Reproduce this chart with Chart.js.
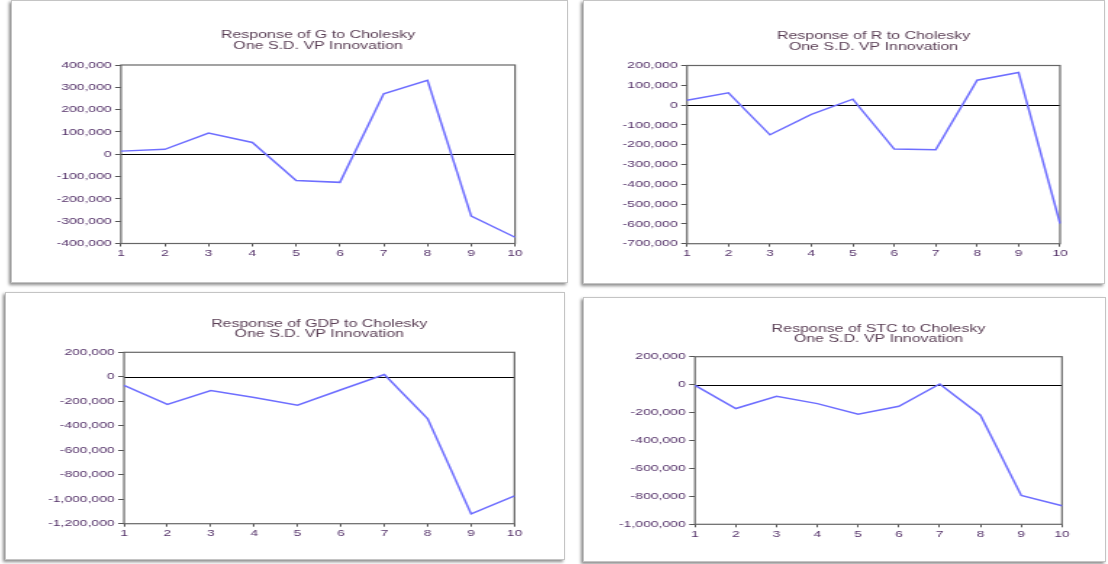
<!DOCTYPE html>
<html><head><meta charset="utf-8">
<script src="https://cdn.jsdelivr.net/npm/chart.js@4.4.1/dist/chart.umd.min.js"></script>
<style>
html,body{margin:0;padding:0;background:#fff;}
body{width:1108px;height:564px;overflow:hidden;position:relative;font-family:"Liberation Sans",Arial,sans-serif;}
.panel{position:absolute;border:1px solid #c4c4c4;box-shadow:-2px 2px 3px rgba(0,0,0,0.45);background:#fff;box-sizing:border-box;}
canvas{position:absolute;transform-origin:0 0;}
</style></head><body>
<script>
// ---- data ----
const periods = ['1','2','3','4','5','6','7','8','9','10'];

const respG   = [14000, 22000, 95000, 53000, -118000, -126000, 271000, 331000, -277000, -372000];
const respR   = [24000, 62000, -150000, -47000, 30000, -222000, -226000, 126000, 165000, -598000];
const respGDP = [-71000, -226000, -112000, -169000, -232000, -106000, 19000, -343000, -1120000, -973000];
const respSTC = [-5000, -171000, -83000, -136000, -212000, -155000, 5000, -219000, -793000, -867000];

const ticksG   = [400000, 300000, 200000, 100000, 0, -100000, -200000, -300000, -400000];
const ticksR   = [200000, 100000, 0, -100000, -200000, -300000, -400000, -500000, -600000, -700000];
const ticksGDP = [200000, 0, -200000, -400000, -600000, -800000, -1000000, -1200000];
const ticksSTC = [200000, 0, -200000, -400000, -600000, -800000, -1000000];

const titleG   = ['Response of G to Cholesky', 'One S.D. VP Innovation'];
const titleR   = ['Response of R to Cholesky', 'One S.D. VP Innovation'];
const titleGDP = ['Response of GDP to Cholesky', 'One S.D. VP Innovation'];
const titleSTC = ['Response of STC to Cholesky', 'One S.D. VP Innovation'];

// ---- layout (page pixels) ----
const S = 1.45; // horizontal stretch of the original rendering
const panels = [
  {box:{l:11,t:0,r:568,b:283},   plot:{l:121,r:515,t:65,b:243.5}, ty:[35,45.5], data:respG,   ticks:ticksG,   title:titleG},
  {box:{l:583,t:0,r:1105,b:284}, plot:{l:687,r:1060,t:65.5,b:243.7}, ty:[36,46.5], data:respR,   ticks:ticksR,   title:titleR},
  {box:{l:5,t:292,r:565,b:560},  plot:{l:124,r:514.5,t:352.3,b:523.7}, ty:[323.5,334], data:respGDP, ticks:ticksGDP, title:titleGDP},
  {box:{l:583,t:297,r:1106,b:562}, plot:{l:695,r:1062,t:356.7,b:524.3}, ty:[328.5,339], data:respSTC, ticks:ticksSTC, title:titleSTC}
];

const FONT = '"Liberation Sans", Arial, sans-serif';
const fmt = v => Number(v).toLocaleString('en-US');

panels.forEach((p, i) => {
  const div = document.createElement('div');
  div.className = 'panel';
  div.style.left = p.box.l + 'px';
  div.style.top = p.box.t + 'px';
  div.style.width = (p.box.r - p.box.l) + 'px';
  div.style.height = (p.box.b - p.box.t) + 'px';
  document.body.appendChild(div);

  const W = Math.round((p.box.r - p.box.l) / S);
  const H = p.box.b - p.box.t;
  const cv = document.createElement('canvas');
  cv.width = W; cv.height = H;
  cv.style.left = p.box.l + 'px';
  cv.style.top = p.box.t + 'px';
  cv.style.transform = 'scaleX(' + S + ')';
  document.body.appendChild(cv);

  const lc = (p.plot.l - p.box.l) / S;
  const rc = (p.plot.r - p.box.l) / S;
  const tc = p.plot.t - p.box.t;
  const bc = p.plot.b - p.box.t;
  const XH = 20;

  const deco = {
    id: 'deco' + i,
    beforeDatasetsDraw(chart) {
      const ctx = chart.ctx, a = chart.chartArea;
      const y0 = chart.scales.y.getPixelForValue(0);
      ctx.save();
      ctx.strokeStyle = '#000';
      ctx.lineWidth = 1;
      ctx.beginPath();
      ctx.moveTo(a.left, Math.round(y0) + 0.5);
      ctx.lineTo(a.right, Math.round(y0) + 0.5);
      ctx.stroke();
      ctx.strokeStyle = '#666';
      ctx.lineWidth = 1.2;
      ctx.strokeRect(a.left, a.top, a.right - a.left, a.bottom - a.top);
      ctx.restore();
    },
    afterDraw(chart) {
      const ctx = chart.ctx, a = chart.chartArea;
      ctx.save();
      ctx.font = '11px ' + FONT;
      ctx.fillStyle = '#5a3f55';
      ctx.textAlign = 'center';
      ctx.textBaseline = 'middle';
      const cx = (a.left + a.right) / 2;
      ctx.fillText(p.title[0], cx, p.ty[0] - p.box.t);
      ctx.fillText(p.title[1], cx, p.ty[1] - p.box.t);
      ctx.restore();
    }
  };

  new Chart(cv, {
    type: 'line',
    data: {
      labels: periods,
      datasets: [{
        data: p.data,
        borderColor: '#6e6eff',
        borderWidth: 1.5,
        pointRadius: 0,
        tension: 0,
        fill: false
      }]
    },
    options: {
      responsive: false,
      animation: false,
      devicePixelRatio: 1,
      layout: { padding: { left: 0, top: tc, right: W - rc, bottom: H - bc - XH } },
      plugins: { legend: { display: false }, tooltip: { enabled: false }, title: { display: false } },
      scales: {
        x: {
          type: 'category',
          offset: false,
          grid: { drawOnChartArea: false, drawTicks: true, tickLength: 3, color: '#555' },
          border: { display: false },
          ticks: { color: '#55336a', font: { family: FONT, size: 9.6 }, padding: 1, maxRotation: 0, autoSkip: false },
          afterFit: s => { s.height = XH; }
        },
        y: {
          min: p.ticks[p.ticks.length - 1],
          max: p.ticks[0],
          grid: { drawOnChartArea: false, drawTicks: true, tickLength: 4, color: '#555' },
          border: { display: false },
          afterBuildTicks: s => { s.ticks = p.ticks.map(v => ({ value: v })); },
          ticks: { color: '#55336a', font: { family: FONT, size: 9.6 }, padding: 2.5, callback: v => fmt(v) },
          afterFit: s => { s.width = lc; }
        }
      }
    },
    plugins: [deco]
  });
});
</script>
</body></html>
